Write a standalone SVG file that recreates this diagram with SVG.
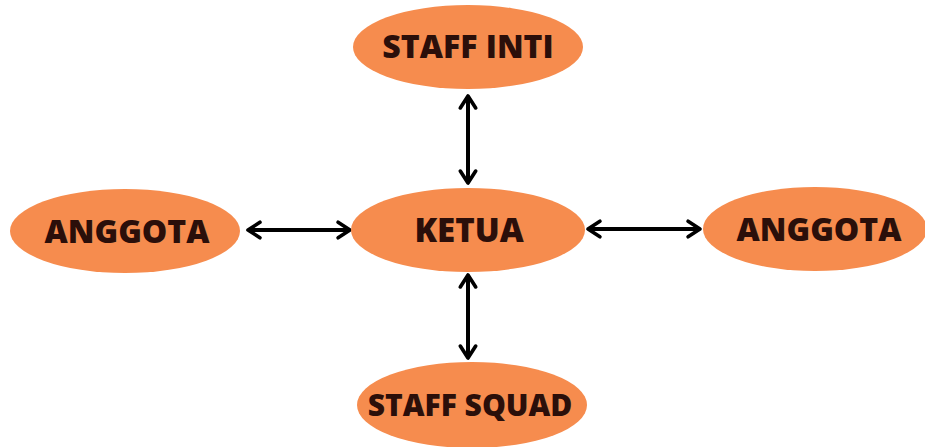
<svg xmlns="http://www.w3.org/2000/svg" width="925" height="447" viewBox="0 0 925 447">
<style>
.n ellipse{fill:#F68C4E;}
.n text{font-family:"Open Sans","Liberation Sans",sans-serif;font-weight:800;font-size:32px;fill:#2B0F0A;text-anchor:middle;}
.c line{stroke:#000;stroke-width:4;marker-start:url(#ah);marker-end:url(#ah);}
</style>
<defs>
<marker id="ah" viewBox="0 0 12 12" refX="10" refY="6" markerWidth="5.5" markerHeight="5.5" orient="auto-start-reverse" markerUnits="strokeWidth">
<path d="M3.5,1.8 L10,6 L3.5,10.2" fill="none" stroke="#000" stroke-width="2" stroke-linecap="round" stroke-linejoin="round"/>
</marker>
</defs>
<rect width="925" height="447" fill="#fff"/>
<g class="c" id="connectors">
<line x1="468" y1="96" x2="468" y2="183"/>
<line x1="248" y1="230" x2="350" y2="230"/>
<line x1="588" y1="229" x2="700" y2="229"/>
<line x1="468" y1="275" x2="468" y2="358"/>
</g>
<g class="n" id="staff-inti">
<ellipse cx="468" cy="47" rx="115" ry="42"/>
<text x="468" y="58">STAFF INTI</text>
</g>
<g class="n" id="anggota-left">
<ellipse cx="125" cy="231" rx="115" ry="42"/>
<text x="127" y="243">ANGGOTA</text>
</g>
<g class="n" id="ketua">
<ellipse cx="468" cy="230" rx="117" ry="42"/>
<text x="469" y="242" style="font-size:33px">KETUA</text>
</g>
<g class="n" id="anggota-right">
<ellipse cx="815" cy="229" rx="112" ry="42"/>
<text x="819" y="241">ANGGOTA</text>
</g>
<g class="n" id="staff-squad">
<ellipse cx="472" cy="405" rx="115" ry="43"/>
<text x="470" y="416" style="font-size:30px">STAFF SQUAD</text>
</g>
</svg>
